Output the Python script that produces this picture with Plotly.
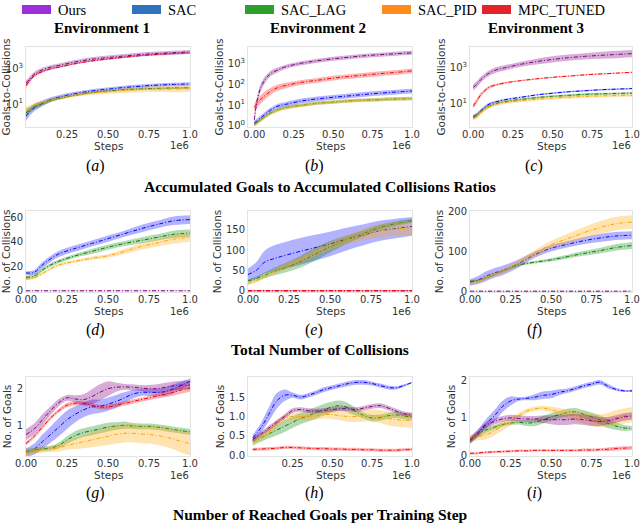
import plotly.graph_objects as go

W, H = 640, 524

methods = ["Ours", "SAC", "SAC_LAG", "SAC_PID", "MPC_TUNED"]
line_colors = {"Ours": "#800080", "SAC": "#0000ff", "SAC_LAG": "#008000",
               "SAC_PID": "#ffa500", "MPC_TUNED": "#ff0000"}
band_colors = {"Ours": "rgba(128,0,128,0.32)", "SAC": "rgba(0,0,255,0.3)",
               "SAC_LAG": "rgba(0,128,0,0.3)", "SAC_PID": "rgba(255,165,0,0.3)",
               "MPC_TUNED": "rgba(255,0,0,0.3)"}
legend_colors = {"Ours": "#9b30d9", "SAC": "#2f72bd", "SAC_LAG": "#2ca02c",
                 "SAC_PID": "#ff8c1a", "MPC_TUNED": "#e3242b"}

# x in units of 1e6 steps
x_ratio = [0, 0.02, 0.05, 0.1, 0.15, 0.2, 0.3, 0.4, 0.5, 0.6, 0.7, 0.8, 0.9, 1.0]
x_coll = [0, 0.05, 0.1, 0.15, 0.2, 0.3, 0.4, 0.5, 0.6, 0.7, 0.8, 0.9, 1.0]
x_goal = [0, 0.05, 0.1, 0.15, 0.2, 0.25, 0.3, 0.35, 0.4, 0.45, 0.5,
          0.55, 0.6, 0.65, 0.7, 0.75, 0.8, 0.85, 0.9, 0.95, 1.0]

# --- goals-to-collisions ratio (log scale), spread is relative ---
ratio_env1 = {
    "Ours": [160, 250, 500, 890, 1260, 1580, 2500, 3550, 4470, 5500, 6600, 7600, 8500, 9300],
    "SAC": [2.0, 3.5, 6.3, 11, 18, 25, 40, 56, 71, 89, 105, 120, 132, 141],
    "SAC_LAG": [3.2, 4.5, 7, 11, 16, 21, 32, 45, 56, 66, 74, 79, 83, 85],
    "SAC_PID": [5, 6.3, 9, 12.6, 16.6, 21, 32, 42, 50, 59, 66, 71, 72, 74],
    "MPC_TUNED": [112, 200, 400, 710, 1000, 1260, 2000, 2820, 3700, 4700, 5750, 6760, 7590, 8300],
}
ratio_env1_spread = {
    "Ours": [0.4, 0.4, 0.35, 0.3, 0.3, 0.3, 0.3, 0.3, 0.3, 0.3, 0.3, 0.3, 0.3, 0.3],
    "SAC": [0.8, 0.7, 0.6, 0.45, 0.35, 0.3, 0.25, 0.25, 0.25, 0.25, 0.25, 0.25, 0.25, 0.25],
    "SAC_LAG": [0.5, 0.45, 0.4, 0.3, 0.25, 0.2, 0.15, 0.15, 0.15, 0.15, 0.15, 0.15, 0.15, 0.15],
    "SAC_PID": [0.4, 0.35, 0.3, 0.25, 0.2, 0.2, 0.2, 0.25, 0.3, 0.35, 0.4, 0.45, 0.5, 0.5],
    "MPC_TUNED": [0.4, 0.3, 0.2, 0.15, 0.12, 0.1, 0.1, 0.1, 0.1, 0.1, 0.1, 0.1, 0.1, 0.1],
}
ratio_env2 = {
    "Ours": [2, 20, 100, 316, 500, 710, 1050, 1380, 1700, 2040, 2400, 2700, 3000, 3300],
    "SAC": [1.4, 1.8, 2.8, 5.6, 9, 11, 16, 20, 24, 28, 33, 38, 43, 48],
    "SAC_LAG": [1.2, 1.5, 2.2, 4, 6, 7.6, 10, 12.6, 14, 16, 17.4, 18.6, 20, 21],
    "SAC_PID": [1.1, 1.4, 2.1, 3.8, 5.8, 7.4, 9.8, 12.2, 14, 15.8, 17.2, 18.4, 19.8, 20.5],
    "MPC_TUNED": [8, 12.6, 22, 45, 71, 89, 126, 158, 200, 240, 280, 330, 380, 450],
}
ratio_env2_spread = {
    "Ours": [0.5, 0.6, 0.5, 0.35, 0.3, 0.25, 0.25, 0.25, 0.25, 0.25, 0.25, 0.25, 0.25, 0.25],
    "SAC": [0.3, 0.3, 0.3, 0.3, 0.3, 0.3, 0.3, 0.3, 0.3, 0.3, 0.3, 0.3, 0.3, 0.3],
    "SAC_LAG": [0.2, 0.2, 0.2, 0.2, 0.2, 0.2, 0.2, 0.2, 0.2, 0.2, 0.2, 0.2, 0.2, 0.2],
    "SAC_PID": [0.2, 0.2, 0.2, 0.2, 0.2, 0.2, 0.2, 0.2, 0.2, 0.2, 0.2, 0.2, 0.2, 0.2],
    "MPC_TUNED": [0.6, 0.6, 0.6, 0.5, 0.4, 0.35, 0.3, 0.3, 0.3, 0.3, 0.3, 0.3, 0.3, 0.3],
}
ratio_env3 = {
    "Ours": [80, 112, 224, 500, 790, 1000, 1580, 2240, 2950, 3700, 4400, 5000, 5600, 6300],
    "SAC": [1.8, 2.2, 4, 9, 12.6, 16, 22, 30, 37, 45, 51, 58, 63, 68],
    "SAC_LAG": [1.6, 2, 3.5, 7, 10, 12.6, 16.6, 21, 25, 28, 32, 34, 36, 38],
    "SAC_PID": [1.4, 1.8, 3.2, 6.3, 9, 11, 14, 17, 20, 22, 24.5, 26, 27.5, 28],
    "MPC_TUNED": [7, 12.6, 32, 80, 112, 141, 190, 240, 290, 340, 400, 450, 500, 560],
}
ratio_env3_spread = {
    "Ours": [0.5, 0.5, 0.45, 0.4, 0.4, 0.4, 0.4, 0.45, 0.5, 0.5, 0.5, 0.55, 0.6, 0.6],
    "SAC": [0.3, 0.3, 0.25, 0.2, 0.15, 0.12, 0.1, 0.1, 0.1, 0.1, 0.1, 0.1, 0.1, 0.1],
    "SAC_LAG": [0.3, 0.3, 0.25, 0.2, 0.15, 0.15, 0.15, 0.15, 0.15, 0.15, 0.15, 0.15, 0.15, 0.15],
    "SAC_PID": [0.35, 0.35, 0.3, 0.25, 0.2, 0.2, 0.2, 0.2, 0.2, 0.2, 0.2, 0.2, 0.2, 0.2],
    "MPC_TUNED": [0.4, 0.35, 0.3, 0.2, 0.15, 0.12, 0.1, 0.08, 0.08, 0.08, 0.08, 0.08, 0.08, 0.08],
}

# --- total number of collisions ---
coll_env1 = {
    "Ours": [0, 0, 0, 0, 0, 0, 0, 0, 0, 0, 0, 0, 0],
    "SAC": [14.5, 15, 21, 26, 30, 34.5, 38.5, 42.5, 46.5, 50.5, 54, 57, 58],
    "SAC_LAG": [11, 12, 17, 21, 24, 28.5, 32, 35.5, 38.5, 41, 43.5, 46, 47],
    "SAC_PID": [9.5, 10.5, 14, 18, 21, 24, 26.5, 28.5, 32, 36, 39, 42, 43.5],
}
coll_env1_sd = {
    "Ours": [0.3, 0.3, 0.3, 0.3, 0.3, 0.3, 0.3, 0.3, 0.3, 0.3, 0.3, 0.3, 0.3],
    "SAC": [1.5, 2, 2.5, 2.5, 2.5, 2.5, 2.5, 2.5, 2.5, 3, 3, 3.5, 3.5],
    "SAC_LAG": [1.5, 1.5, 1.5, 1.5, 1.5, 1.5, 2, 2, 2, 2.5, 2.5, 3, 3],
    "SAC_PID": [1, 1, 1, 1, 1, 1.2, 1.5, 1.5, 2, 2.5, 3, 3.5, 3.5],
}
coll_env2 = {
    "Ours": [0, 0, 0, 0, 0, 0, 0, 0, 0, 0, 0, 0, 0],
    "SAC": [40, 50, 70, 78, 84, 95, 105, 115, 127, 137, 147, 153, 158],
    "SAC_LAG": [24, 30, 38, 46, 53, 68, 88, 108, 125, 140, 155, 165, 172],
    "SAC_PID": [18, 24, 35, 45, 55, 72, 92, 110, 125, 138, 147, 152, 155],
    "MPC_TUNED": [0, 0, 0, 0, 0, 0, 0, 0, 0, 0, 0, 0, 0],
}
coll_env2_sd = {
    "Ours": [1, 1, 1, 1, 1, 1, 1, 1, 1, 1, 1, 1, 1],
    "SAC": [15, 20, 28, 32, 33, 33, 32, 30, 28, 26, 25, 24, 23],
    "SAC_LAG": [4, 5, 7, 9, 11, 14, 16, 14, 10, 8, 7, 6, 5],
    "SAC_PID": [3, 4, 5, 6, 7, 8, 9, 10, 12, 14, 16, 17, 18],
    "MPC_TUNED": [2, 2, 2, 2, 2, 2, 2, 2, 2, 2, 2, 2, 2],
}
coll_env3 = {
    "Ours": [0, 0, 0, 0, 0, 0, 0, 0, 0, 0, 0, 0, 0],
    "SAC": [22, 28, 38, 46, 52, 70, 92, 108, 118, 127, 134, 139, 141],
    "SAC_LAG": [25, 27, 34, 42, 50, 66, 73, 79, 87, 95, 102, 110, 115],
    "SAC_PID": [20, 24, 35, 42, 50, 72, 95, 117, 132, 147, 160, 170, 174],
}
coll_env3_sd = {
    "Ours": [1, 1, 1, 1, 1, 1, 1, 1, 1, 1, 1, 1, 1],
    "SAC": [8, 10, 12, 12, 12, 10, 8, 8, 8, 9, 10, 10, 10],
    "SAC_LAG": [3, 3, 3, 3, 3, 3, 3, 4, 5, 6, 7, 8, 9],
    "SAC_PID": [4, 4, 5, 6, 6, 7, 8, 10, 12, 14, 16, 17, 17],
}

# --- reached goals per training step ---
goal_env1 = {
    "Ours": [0.75, 0.9, 1.15, 1.4, 1.62, 1.75, 1.72, 1.7, 1.78, 1.9, 2.0,
             2.04, 2.05, 2.04, 2.02, 2.0, 2.0, 2.04, 2.08, 2.1, 2.1],
    "SAC": [0.25, 0.35, 0.55, 0.75, 0.95, 1.15, 1.3, 1.42, 1.5, 1.52, 1.58,
            1.65, 1.75, 1.85, 1.9, 1.9, 1.9, 1.92, 2.0, 2.1, 2.2],
    "SAC_LAG": [0.28, 0.32, 0.36, 0.38, 0.45, 0.6, 0.72, 0.8, 0.85, 0.9, 0.95,
                0.98, 1.0, 0.98, 0.97, 0.97, 0.95, 0.92, 0.88, 0.85, 0.82],
    "SAC_PID": [0.25, 0.3, 0.33, 0.35, 0.38, 0.45, 0.5, 0.55, 0.6, 0.65, 0.7,
                0.75, 0.78, 0.78, 0.76, 0.75, 0.72, 0.68, 0.62, 0.55, 0.5],
    "MPC_TUNED": [0.5, 0.7, 0.95, 1.2, 1.4, 1.55, 1.6, 1.6, 1.55, 1.5, 1.5,
                  1.55, 1.6, 1.65, 1.7, 1.75, 1.8, 1.85, 1.9, 1.97, 2.02],
}
goal_env1_sd = {
    "Ours": [0.15, 0.15, 0.15, 0.12, 0.1, 0.08, 0.1, 0.15, 0.2, 0.22, 0.2,
             0.12, 0.08, 0.08, 0.08, 0.1, 0.12, 0.12, 0.12, 0.12, 0.12],
    "SAC": [0.12, 0.15, 0.2, 0.22, 0.25, 0.25, 0.22, 0.2, 0.2, 0.18, 0.18,
            0.18, 0.15, 0.12, 0.1, 0.1, 0.1, 0.12, 0.12, 0.1, 0.08],
    "SAC_LAG": [0.08, 0.06, 0.06, 0.06, 0.08, 0.1, 0.12, 0.12, 0.12, 0.12, 0.12,
                0.1, 0.1, 0.08, 0.08, 0.08, 0.08, 0.08, 0.08, 0.08, 0.08],
    "SAC_PID": [0.08, 0.08, 0.08, 0.08, 0.1, 0.12, 0.15, 0.18, 0.2, 0.22, 0.24,
                0.25, 0.25, 0.25, 0.25, 0.25, 0.26, 0.27, 0.28, 0.3, 0.32],
    "MPC_TUNED": [0.05, 0.05, 0.05, 0.05, 0.05, 0.06, 0.06, 0.06, 0.06, 0.06, 0.06,
                  0.06, 0.06, 0.06, 0.06, 0.06, 0.07, 0.08, 0.09, 0.1, 0.1],
}
goal_env2 = {
    "Ours": [0.4, 0.55, 0.7, 0.85, 1.0, 1.15, 1.18, 1.15, 1.14, 1.16, 1.18,
             1.2, 1.2, 1.18, 1.22, 1.26, 1.28, 1.22, 1.14, 1.07, 1.04],
    "SAC": [0.45, 0.7, 1.05, 1.4, 1.55, 1.55, 1.5, 1.55, 1.62, 1.7, 1.75,
            1.8, 1.85, 1.88, 1.88, 1.85, 1.8, 1.75, 1.74, 1.8, 1.88],
    "SAC_LAG": [0.35, 0.45, 0.55, 0.65, 0.75, 0.85, 0.95, 1.02, 1.1, 1.18, 1.25,
                1.28, 1.22, 1.12, 1.02, 0.96, 0.97, 1.02, 1.04, 1.01, 0.98],
    "SAC_PID": [0.35, 0.45, 0.6, 0.8, 0.95, 1.0, 1.0, 1.0, 1.02, 1.05, 1.05,
                1.02, 1.0, 1.0, 1.02, 1.02, 1.0, 0.95, 0.92, 0.9, 0.9],
    "MPC_TUNED": [0.15, 0.16, 0.17, 0.18, 0.2, 0.2, 0.19, 0.18, 0.17, 0.17, 0.16,
                  0.16, 0.15, 0.15, 0.14, 0.14, 0.13, 0.13, 0.13, 0.14, 0.15],
}
goal_env2_sd = {
    "Ours": [0.06, 0.06, 0.06, 0.06, 0.06, 0.06, 0.06, 0.06, 0.06, 0.06, 0.06,
             0.06, 0.06, 0.06, 0.06, 0.06, 0.06, 0.06, 0.06, 0.06, 0.06],
    "SAC": [0.08, 0.12, 0.18, 0.2, 0.15, 0.07, 0.06, 0.06, 0.06, 0.06, 0.06,
            0.06, 0.06, 0.06, 0.06, 0.05, 0.05, 0.05, 0.04, 0.03, 0.02],
    "SAC_LAG": [0.1, 0.1, 0.12, 0.14, 0.15, 0.15, 0.15, 0.15, 0.15, 0.15, 0.14,
                0.13, 0.12, 0.1, 0.08, 0.08, 0.08, 0.08, 0.08, 0.08, 0.08],
    "SAC_PID": [0.06, 0.08, 0.1, 0.1, 0.1, 0.1, 0.1, 0.1, 0.1, 0.1, 0.12,
                0.12, 0.14, 0.14, 0.15, 0.16, 0.17, 0.18, 0.18, 0.18, 0.2],
    "MPC_TUNED": [0.04, 0.04, 0.04, 0.04, 0.04, 0.04, 0.04, 0.04, 0.04, 0.04, 0.04,
                  0.04, 0.04, 0.04, 0.04, 0.04, 0.04, 0.04, 0.04, 0.04, 0.04],
}
goal_env3 = {
    "Ours": [0.4, 0.6, 0.8, 0.9, 0.97, 1.0, 0.98, 0.97, 0.97, 0.96, 0.95,
             0.95, 0.95, 0.97, 0.95, 0.92, 0.9, 0.92, 0.97, 1.02, 1.05],
    "SAC": [0.4, 0.6, 0.85, 1.05, 1.3, 1.45, 1.5, 1.52, 1.55, 1.6, 1.62,
            1.68, 1.72, 1.78, 1.85, 1.9, 1.95, 1.85, 1.76, 1.72, 1.72],
    "SAC_LAG": [0.38, 0.55, 0.68, 0.75, 0.82, 0.86, 0.88, 0.86, 0.88, 0.95, 1.02,
                1.08, 1.14, 1.16, 1.1, 1.02, 0.95, 0.85, 0.78, 0.73, 0.72],
    "SAC_PID": [0.45, 0.5, 0.55, 0.65, 0.78, 0.9, 1.05, 1.18, 1.24, 1.26, 1.22,
                1.16, 1.1, 1.05, 1.0, 0.95, 0.92, 0.95, 1.0, 1.05, 1.08],
    "MPC_TUNED": [0.05, 0.06, 0.08, 0.09, 0.1, 0.11, 0.12, 0.12, 0.13, 0.13, 0.13,
                  0.13, 0.13, 0.13, 0.14, 0.14, 0.15, 0.16, 0.18, 0.19, 0.2],
}
goal_env3_sd = {
    "Ours": [0.08, 0.08, 0.08, 0.08, 0.08, 0.08, 0.08, 0.08, 0.08, 0.1, 0.12,
             0.14, 0.14, 0.14, 0.14, 0.14, 0.12, 0.1, 0.1, 0.1, 0.1],
    "SAC": [0.08, 0.1, 0.12, 0.15, 0.15, 0.12, 0.05, 0.05, 0.08, 0.1, 0.1,
            0.08, 0.06, 0.06, 0.06, 0.06, 0.06, 0.06, 0.04, 0.03, 0.03],
    "SAC_LAG": [0.08, 0.08, 0.08, 0.06, 0.05, 0.05, 0.06, 0.08, 0.1, 0.1, 0.1,
                0.1, 0.1, 0.1, 0.1, 0.12, 0.12, 0.12, 0.1, 0.08, 0.06],
    "SAC_PID": [0.1, 0.1, 0.12, 0.12, 0.12, 0.1, 0.08, 0.06, 0.06, 0.06, 0.08,
                0.1, 0.12, 0.14, 0.15, 0.16, 0.17, 0.18, 0.2, 0.2, 0.2],
    "MPC_TUNED": [0.03, 0.03, 0.03, 0.03, 0.03, 0.03, 0.03, 0.03, 0.03, 0.03, 0.03,
                  0.03, 0.03, 0.03, 0.04, 0.04, 0.04, 0.05, 0.05, 0.05, 0.05],
}

env_titles = ["Environment 1", "Environment 2", "Environment 3"]
row_titles = ["Accumulated Goals to Accumulated Collisions Ratios",
              "Total Number of Collisions",
              "Number of Reached Goals per Training Step"]
captions = ["a", "b", "c", "d", "e", "f", "g", "h", "i"]
y_titles = ["Goals-to-Collisions", "No. of Collisions", "No. of Goals"]

x_ticks = [0, 0.25, 0.5, 0.75, 1.0]
x_ticktext = ["0.00", "0.25", "0.50", "0.75", "1.0"]

# pixel layout of the plot areas
col_px = [(26, 190), (248, 412), (470, 632)]
row_px = [(47, 127), (211, 292), (377, 456)]
steps_px = [146, 311, 475]
caption_px = [166, 330, 493]
row_title_px = [186, 349, 514]
caption_x = [95, 314, 534]
env_title_x = [102, 318, 536]
legend_x = [22, 132, 245, 382, 482]


def px(xp):
    return xp / W


def py(yp):
    return 1 - yp / H


panels = [
    # data, sd, x, log, y range, y ticks, y ticktext, x range, show x0
    (ratio_env1, ratio_env1_spread, x_ratio, True, [-0.3, 4.25], [10, 1000],
     ["10<sup>1</sup>", "10<sup>3</sup>"], [0, 1.0], False),
    (ratio_env2, ratio_env2_spread, x_ratio, True, [-0.05, 3.8], [1, 10, 100, 1000],
     ["10<sup>0</sup>", "10<sup>1</sup>", "10<sup>2</sup>", "10<sup>3</sup>"], [-0.04, 1.0], True),
    (ratio_env3, ratio_env3_spread, x_ratio, True, [-0.33, 4.17], [10, 1000],
     ["10<sup>1</sup>", "10<sup>3</sup>"], [-0.02, 1.0], True),
    (coll_env1, coll_env1_sd, x_coll, False, [-1, 65], [0, 20, 40, 60],
     ["0", "20", "40", "60"], [0, 1.0], True),
    (coll_env2, coll_env2_sd, x_coll, False, [-3, 196], [0, 50, 100, 150],
     ["0", "50", "100", "150"], [0, 1.0], True),
    (coll_env3, coll_env3_sd, x_coll, False, [-2, 202], [0, 100, 200],
     ["0", "100", "200"], [0, 1.0], True),
    (goal_env1, goal_env1_sd, x_goal, False, [0.16, 2.32], [1, 2],
     ["1", "2"], [0, 1.0], True),
    (goal_env2, goal_env2_sd, x_goal, False, [-0.02, 2.02], [0, 0.5, 1.0, 1.5],
     ["0.0", "0.5", "1.0", "1.5"], [-0.03, 1.0], False),
    (goal_env3, goal_env3_sd, x_goal, False, [-0.02, 2.09], [0, 1, 2],
     ["0", "1", "2"], [0, 1.0], True),
]

draw_order = ["SAC", "SAC_LAG", "SAC_PID", "MPC_TUNED", "Ours"]

fig = go.Figure()
layout = {}
annotations = []
tick_font = dict(family="DejaVu Sans", size=10, color="#333333")
title_font = dict(family="DejaVu Sans", size=10.5, color="#333333")

for k, (data, sd, xs, is_log, yr, yt, ytt, xr, show0) in enumerate(panels):
    r, c = divmod(k, 3)
    xa, ya = f"x{k + 1}", f"y{k + 1}"
    order = draw_order if k != 4 else ["SAC", "SAC_LAG", "SAC_PID", "Ours", "MPC_TUNED"]
    for m in order:
        if m not in data:
            continue
        mean, s = data[m], sd[m]
        if is_log:
            lo = [v / (1 + e) for v, e in zip(mean, s)]
            hi = [v * (1 + e) for v, e in zip(mean, s)]
        else:
            lo = [v - e for v, e in zip(mean, s)]
            hi = [v + e for v, e in zip(mean, s)]
        fig.add_trace(go.Scatter(x=xs, y=lo, xaxis=xa, yaxis=ya, mode="lines",
                                 line=dict(width=0, shape="spline"),
                                 showlegend=False, hoverinfo="skip"))
        fig.add_trace(go.Scatter(x=xs, y=hi, xaxis=xa, yaxis=ya, mode="lines",
                                 line=dict(width=0, shape="spline"),
                                 fill="tonexty", fillcolor=band_colors[m],
                                 showlegend=False, hoverinfo="skip"))
        fig.add_trace(go.Scatter(x=xs, y=mean, xaxis=xa, yaxis=ya, mode="lines",
                                 line=dict(color=line_colors[m], width=1,
                                           dash="4px,2px,1px,2px", shape="spline"),
                                 name=m, showlegend=False))

    x0, x1 = col_px[c]
    y0, y1 = row_px[r]
    tv = x_ticks if show0 else x_ticks[1:]
    tt = x_ticktext if show0 else x_ticktext[1:]
    axis_style = dict(showline=True, linecolor="#e3e3e3", linewidth=1, mirror=True,
                      showgrid=False, zeroline=False, ticks="", tickfont=tick_font,
                      automargin=False)
    layout[f"xaxis{k + 1}"] = dict(
        domain=[px(x0), px(x1)], anchor=ya, range=xr, tickvals=tv, ticktext=tt,
        ticklabelstandoff=-2, **axis_style)
    layout[f"yaxis{k + 1}"] = dict(
        domain=[py(y1), py(y0)], anchor=xa, type="log" if is_log else "linear",
        range=yr, tickvals=yt, ticktext=ytt,
        title=dict(text=y_titles[r], font=title_font, standoff=2),
        **axis_style)

    # x axis label and offset text
    annotations.append(dict(x=px((x0 + x1) / 2), y=py(steps_px[r]), xref="paper", yref="paper",
                            text="Steps", showarrow=False, xanchor="center", yanchor="middle",
                            font=title_font))
    annotations.append(dict(x=px(x1 + 1), y=py(steps_px[r]), xref="paper", yref="paper",
                            text="1e6", showarrow=False, xanchor="right", yanchor="middle",
                            font=dict(family="DejaVu Sans", size=10, color="#333333")))
    annotations.append(dict(x=px(caption_x[c]), y=py(caption_px[r]), xref="paper", yref="paper",
                            text=f"(<i>{captions[k]}</i>)", showarrow=False,
                            xanchor="center", yanchor="middle",
                            font=dict(family="Liberation Serif", size=16, color="black")))

for c, t in enumerate(env_titles):
    annotations.append(dict(x=px(env_title_x[c]), y=py(28), xref="paper", yref="paper",
                            text=f"<b>{t}</b>", showarrow=False,
                            xanchor="center", yanchor="middle",
                            font=dict(family="Liberation Serif", size=15, color="black")))
for r, t in enumerate(row_titles):
    annotations.append(dict(x=0.5, y=py(row_title_px[r]), xref="paper", yref="paper",
                            text=f"<b>{t}</b>", showarrow=False,
                            xanchor="center", yanchor="middle",
                            font=dict(family="Liberation Serif", size=15.5, color="black")))

# legend drawn as patches + labels along the top
shapes = []
for m, lx in zip(methods, legend_x):
    shapes.append(dict(type="rect", xref="paper", yref="paper",
                       x0=px(lx), x1=px(lx + 29), y0=py(14), y1=py(5),
                       fillcolor=legend_colors[m], line=dict(width=0)))
    annotations.append(dict(x=px(lx + 34), y=py(10), xref="paper", yref="paper",
                            text=m, showarrow=False, xanchor="left", yanchor="middle",
                            font=dict(family="Liberation Serif", size=14.5, color="black")))

fig.update_layout(width=W, height=H, margin=dict(l=0, r=0, t=0, b=0),
                  plot_bgcolor="white", paper_bgcolor="white",
                  showlegend=False, annotations=annotations, shapes=shapes, **layout)

fig.write_html("out.html", config={"displayModeBar": False},
               post_script="document.body.style.margin='0px';")
